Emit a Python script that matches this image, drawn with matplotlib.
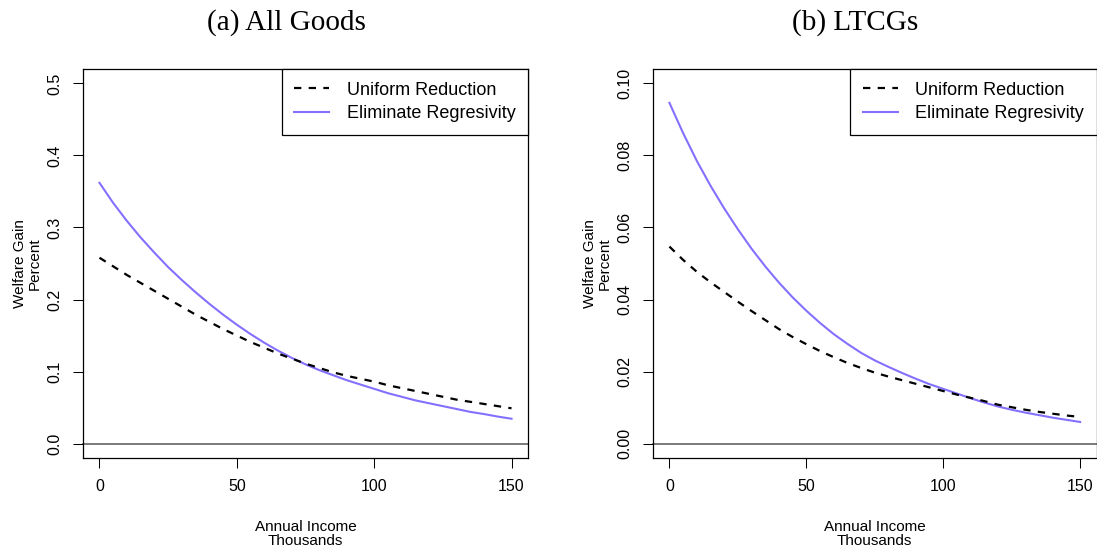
import matplotlib
matplotlib.use("Agg")
import matplotlib.pyplot as plt
from matplotlib.lines import Line2D

# ---- data ----
income = [0, 5, 10, 15, 20, 25, 30, 35, 40, 45, 50, 55, 60, 65, 70, 75,
          80, 85, 90, 95, 100, 105, 110, 115, 120, 125, 130, 135, 140, 145, 150]

all_uniform = [0.258, 0.246, 0.234, 0.223, 0.212, 0.201, 0.190, 0.179, 0.169,
               0.159, 0.150, 0.141, 0.133, 0.125, 0.118, 0.111, 0.105, 0.099,
               0.094, 0.090, 0.086, 0.081, 0.077, 0.073, 0.069, 0.065, 0.061,
               0.058, 0.055, 0.052, 0.049]
all_elim = [0.362, 0.334, 0.309, 0.286, 0.265, 0.245, 0.227, 0.210, 0.194,
            0.179, 0.165, 0.152, 0.140, 0.129, 0.119, 0.110, 0.102, 0.095,
            0.088, 0.082, 0.076, 0.070, 0.065, 0.060, 0.056, 0.052, 0.048,
            0.044, 0.041, 0.0375, 0.0345]

ltcg_uniform = [0.0547, 0.0510, 0.0477, 0.0448, 0.0421, 0.0394, 0.0368, 0.0343,
                0.0318, 0.0296, 0.0276, 0.0257, 0.0240, 0.0224, 0.0210, 0.0197,
                0.0186, 0.0176, 0.0166, 0.0156, 0.0146, 0.0136, 0.0127, 0.0118,
                0.0108, 0.0101, 0.0094, 0.0088, 0.0083, 0.0078, 0.0074]
ltcg_elim = [0.0946, 0.0862, 0.0785, 0.0716, 0.0653, 0.0595, 0.0541, 0.0492,
             0.0447, 0.0406, 0.0369, 0.0335, 0.0304, 0.0277, 0.0252, 0.0231,
             0.0213, 0.0196, 0.0180, 0.0165, 0.0152, 0.0139, 0.0126, 0.0114,
             0.0103, 0.0094, 0.0086, 0.0079, 0.0072, 0.0066, 0.0060]

titles = ["(a) All Goods", "(b) LTCGs"]
series_labels = ["Uniform Reduction", "Eliminate Regresivity"]
x_ticks = [0, 50, 100, 150]
y_ticks_a = [0.0, 0.1, 0.2, 0.3, 0.4, 0.5]
y_ticks_b = [0.00, 0.02, 0.04, 0.06, 0.08, 0.10]

BLUE = "#8470FF"
DASH = (0, (3.3, 3.3))
W, H = 1097, 554
fig = plt.figure(figsize=(W / 100, H / 100), dpi=100)
plt.rcParams["font.family"] = ["Liberation Sans", "DejaVu Sans"]

def px_rect(x0, y0, x1, y1):
    return [x0 / W, 1 - y1 / H, (x1 - x0) / W, (y1 - y0) / H]

ax_a = fig.add_axes(px_rect(83, 69, 528, 458))
ax_b = fig.add_axes(px_rect(653, 69, 1096.5, 458))

panels = [
    (ax_a, all_uniform, all_elim, y_ticks_a, "%.1f", (-0.02, 0.52)),
    (ax_b, ltcg_uniform, ltcg_elim, y_ticks_b, "%.2f", (-0.004, 0.104)),
]

for ax, uni, eli, yt, fmt, ylim in panels:
    ax.axhline(0, color="#6e6e6e", lw=1.3, zorder=1, clip_on=False)
    ax.plot(income, uni, color="black", lw=1.6, linestyle=DASH,
            label=series_labels[0], zorder=3)
    ax.plot(income, eli, color=BLUE, lw=1.5, label=series_labels[1], zorder=2)
    ax.set_xlim(-6, 156)
    ax.set_ylim(*ylim)
    ax.set_xticks(x_ticks)
    ax.set_xticklabels([str(t) for t in x_ticks])
    ax.set_yticks(yt)
    ax.set_yticklabels([fmt % t for t in yt], rotation=90, va="center")
    ax.tick_params(direction="out", length=7.2, width=0.75, labelsize=11.5,
                   color="black", pad=8)
    for s in ax.spines.values():
        s.set_linewidth(0.9)
        s.set_color("black")
    ax.set_xlabel("Annual Income\nThousands", fontsize=11, linespacing=1.0)
    ax.xaxis.label.set_verticalalignment("center")
    ax.xaxis.set_label_coords(0.5, (458 - 534) / 389)
    ax.set_ylabel("Welfare Gain\nPercent", fontsize=11, linespacing=1.05)
    ax.yaxis.label.set_verticalalignment("center")
    ax.yaxis.set_label_coords((27 - 83) / 445, 0.5)
    handles = [
        Line2D([], [], color="black", lw=1.6, linestyle=DASH),
        Line2D([], [], color=BLUE, lw=1.5),
    ]
    leg = ax.legend(handles, series_labels, loc="upper right", fontsize=13,
                    frameon=True, fancybox=False, edgecolor="black",
                    framealpha=1, borderaxespad=0, handlelength=1.95,
                    handletextpad=0.95, borderpad=0.7, labelspacing=0.36)
    leg.get_frame().set_linewidth(0.9)

fig.text(286 / W, 1 - 29.5 / H, titles[0], family="Liberation Serif",
         fontsize=21, ha="center", va="baseline")
fig.text(855 / W, 1 - 29.5 / H, titles[1], family="Liberation Serif",
         fontsize=21, ha="center", va="baseline")

fig.savefig("out.png", dpi=100)
